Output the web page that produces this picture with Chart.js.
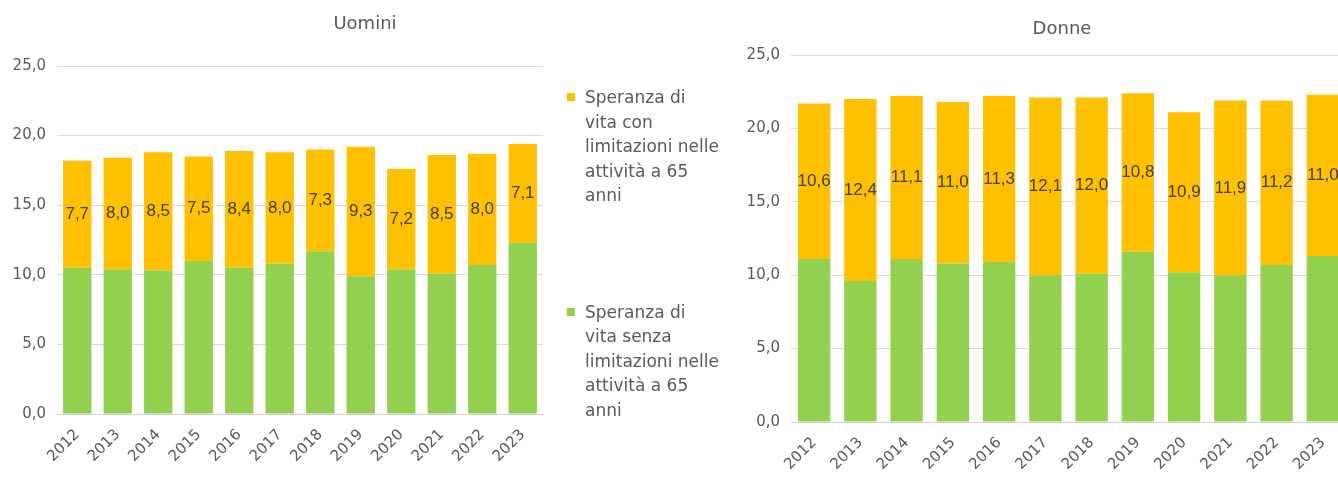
<!DOCTYPE html>
<html>
<head>
<meta charset="utf-8">
<script src="https://cdn.jsdelivr.net/npm/chart.js@4.4.1/dist/chart.umd.min.js"></script>
<style>
    body { margin: 0; width: 1338px; height: 481px; overflow: hidden; position: relative; background: #fff; font-family: 'DejaVu Sans', sans-serif; }
    #men { position: absolute; left: 0; top: 0; }
    #women { position: absolute; left: 730px; top: 0; }
    #legend { position: absolute; left: 567px; top: 85px; color: #595959; font-size: 17px; line-height: 24.5px; }
    .leg-item { display: flex; align-items: flex-start; }
    .leg-item + .leg-item { margin-top: 92px; }
    .leg-box { width: 8px; height: 8px; margin-top: 8px; margin-right: 10px; flex: none; }
</style>
</head>
<body>
<canvas id="men" width="730" height="481"></canvas>
<canvas id="women" width="664" height="481"></canvas>
<div id="legend"></div>

<script>
const years = ['2012', '2013', '2014', '2015', '2016', '2017', '2018', '2019', '2020', '2021', '2022', '2023']

const menNoLimit = [10.5, 10.4, 10.3, 11.0, 10.5, 10.8, 11.7, 9.9, 10.4, 10.1, 10.7, 12.3]
const menWithLimit = [7.7, 8.0, 8.5, 7.5, 8.4, 8.0, 7.3, 9.3, 7.2, 8.5, 8.0, 7.1]

const womenNoLimit = [11.1, 9.6, 11.1, 10.8, 10.9, 10.0, 10.1, 11.6, 10.2, 10.0, 10.7, 11.3]
const womenWithLimit = [10.6, 12.4, 11.1, 11.0, 11.3, 12.1, 12.0, 10.8, 10.9, 11.9, 11.2, 11.0]

const yTicks = [0, 5, 10, 15, 20, 25]

const labelWithLimit = ['Speranza di', 'vita con', 'limitazioni nelle', 'attività a 65', 'anni']
const labelNoLimit = ['Speranza di', 'vita senza', 'limitazioni nelle', 'attività a 65', 'anni']

const GREEN = '#92D050'
const YELLOW = '#FFC000'
const GREY = '#595959'

Chart.defaults.font.family = "'DejaVu Sans', sans-serif"
Chart.defaults.color = GREY

function fmt(v){
    return v.toFixed(1).replace('.', ',')
}

// values written in the middle of the yellow part
const segmentLabels = {
    id: 'segmentLabels',
    afterDatasetsDraw(chart){
        const ctx = chart.ctx
        const meta = chart.getDatasetMeta(1)
        const values = chart.data.datasets[1].data
        ctx.save()
        ctx.font = "17px 'Liberation Sans', sans-serif"
        ctx.fillStyle = '#404040'
        ctx.textAlign = 'center'
        ctx.textBaseline = 'middle'
        meta.data.forEach((bar, i) => {
            const p = bar.getProps(['x', 'y', 'base'], true)
            ctx.fillText(fmt(values[i]), p.x, (p.y + p.base) / 2)
        })
        ctx.restore()
    }
}

function makeChart(id, title, noLimit, withLimit, box){
    const ctx = document.getElementById(id).getContext('2d')

    return new Chart(ctx, {
        type: 'bar',
        data: {
            labels: years,
            datasets: [
                { label: labelNoLimit.join(' '), data: noLimit, backgroundColor: GREEN },
                { label: labelWithLimit.join(' '), data: withLimit, backgroundColor: YELLOW }
            ]
        },
        options: {
            responsive: false,
            animation: false,
            layout: { padding: 0 },
            datasets: {
                bar: { categoryPercentage: 1, barPercentage: 0.7 }
            },
            plugins: {
                legend: { display: false },
                tooltip: { enabled: false },
                title: {
                    display: true,
                    text: title,
                    color: GREY,
                    font: { size: 18, weight: 'normal' },
                    padding: { top: box.titleTop, bottom: box.titleBottom }
                }
            },
            scales: {
                x: {
                    stacked: true,
                    grid: { display: false },
                    border: { display: true, color: '#d0d0d0', width: 1 },
                    ticks: { color: GREY, font: { size: 15 }, minRotation: 45, maxRotation: 45, padding: 4 },
                    afterFit: s => { s.height = box.xHeight }
                },
                y: {
                    stacked: true,
                    min: 0,
                    max: 25,
                    afterBuildTicks: s => { s.ticks = yTicks.map(v => ({ value: v })) },
                    grid: { color: '#d9d9d9', drawTicks: false },
                    border: { display: false },
                    ticks: { color: GREY, font: { size: 15 }, padding: 11, callback: v => fmt(v) },
                    afterFit: s => { s.width = box.yWidth }
                },
                pad: {
                    type: 'linear',
                    position: 'right',
                    grid: { display: false, drawTicks: false },
                    border: { display: false },
                    ticks: { display: false },
                    afterFit: s => { s.width = box.right }
                }
            }
        },
        plugins: [segmentLabels]
    })
}

function renderLegend(){
    const legend = document.getElementById('legend')
    legend.innerHTML = ''
    const items = [
        { color: YELLOW, lines: labelWithLimit },
        { color: GREEN, lines: labelNoLimit }
    ]
    items.forEach(it => {
        const row = document.createElement('div')
        row.className = 'leg-item'
        row.innerHTML = `<span class="leg-box" style="background:${it.color}"></span><span>${it.lines.join('<br>')}</span>`
        legend.appendChild(row)
    })
}

makeChart('men', 'Uomini', menNoLimit, menWithLimit,
    { titleTop: 14, titleBottom: 30.4, xHeight: 67, yWidth: 57, right: 187 })
makeChart('women', 'Donne', womenNoLimit, womenWithLimit,
    { titleTop: 19, titleBottom: 14.4, xHeight: 59, yWidth: 61, right: 48 })
renderLegend()
</script>
</body>
</html>
